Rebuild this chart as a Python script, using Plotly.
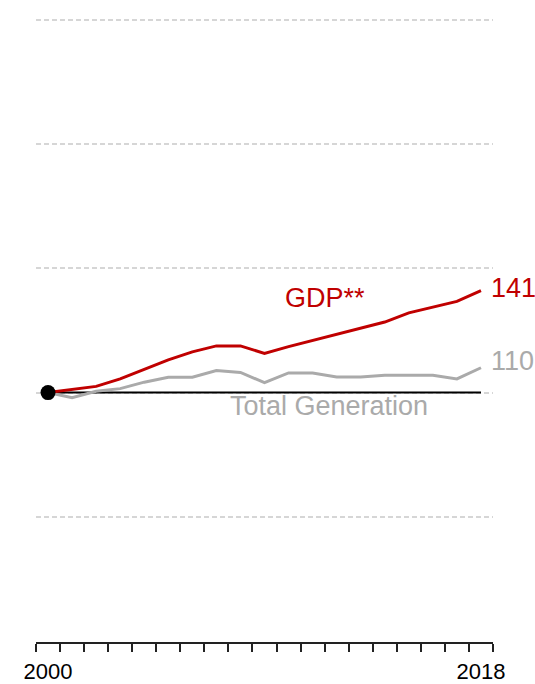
import plotly.graph_objects as go

years = list(range(2000, 2019))
gdp = [100, 101.2, 102.5, 105.5, 109.3, 113.2, 116.4, 118.8, 118.8, 115.8,
       118.5, 121.0, 123.4, 125.7, 128.4, 132.1, 134.4, 136.7, 141]
generation = [100, 97.9, 100.5, 101.6, 104.2, 106.2, 106.2, 108.9, 108.1, 104.0,
              107.9, 107.9, 106.3, 106.3, 107.0, 107.0, 107.0, 105.5, 110]
baseline = [100, 100]
baseline_years = [2000, 2018]
x_labels = ["2000", "2018"]
x_label_vals = [2000, 2018]
y_grid = [0, 50, 100, 150, 200, 250]

RED = "#c00000"
GRAY = "#aaaaaa"
FONT = "Arial, Liberation Sans, sans-serif"

fig = go.Figure()
fig.add_trace(go.Scatter(x=baseline_years, y=baseline, mode="lines",
                         line=dict(color="black", width=2), hoverinfo="skip"))
fig.add_trace(go.Scatter(x=years, y=generation, mode="lines",
                         line=dict(color=GRAY, width=3)))
fig.add_trace(go.Scatter(x=years, y=gdp, mode="lines",
                         line=dict(color=RED, width=3)))
fig.add_trace(go.Scatter(x=[years[0]], y=[gdp[0]], mode="markers",
                         marker=dict(color="black", size=15), cliponaxis=False))

fig.add_annotation(x=years[-1], y=gdp[-1], text=str(round(gdp[-1])), showarrow=False,
                   xanchor="left", yanchor="middle", xshift=8, yshift=3,
                   font=dict(color=RED, size=27, family=FONT))
fig.add_annotation(x=years[-1], y=generation[-1], text=str(round(generation[-1])), showarrow=False,
                   xanchor="left", yanchor="middle", xshift=8, yshift=7,
                   font=dict(color=GRAY, size=27, family=FONT))
fig.add_annotation(x=2011.5, y=138, text="GDP**", showarrow=False,
                   xanchor="center", yanchor="middle",
                   font=dict(color=RED, size=27, family=FONT))
fig.add_annotation(x=2011.7, y=94.6, text="Total Generation", showarrow=False,
                   xanchor="center", yanchor="middle",
                   font=dict(color=GRAY, size=27, family=FONT))

fig.update_layout(
    width=535, height=684,
    margin=dict(l=36, r=42, t=15, b=42, autoexpand=False),
    paper_bgcolor="white", plot_bgcolor="white",
    showlegend=False,
    font=dict(family=FONT, color="black"),
    xaxis=dict(range=[1999.5, 2018.5], tickvals=x_label_vals, ticktext=x_labels,
               ticks="", showgrid=False, zeroline=False, ticklabelstandoff=9,
               automargin=False,
               showline=True, linecolor="#222222", linewidth=1.5,
               tickfont=dict(size=22, color="black", family=FONT),
               minor=dict(tick0=1999.5, dtick=1, ticks="outside", ticklen=8,
                          tickwidth=1.5, tickcolor="#222222", showgrid=False)),
    yaxis=dict(range=[-0.4, 252], tickvals=y_grid, showticklabels=False, ticks="",
               showgrid=True, gridcolor="#d6d6d6", gridwidth=1.5, griddash="5px,3px",
               zeroline=False, showline=False, automargin=False),
)

fig.write_html("out.html", config={"displayModeBar": False},
               post_script="document.body.style.margin='0';document.body.style.overflow='hidden';")
